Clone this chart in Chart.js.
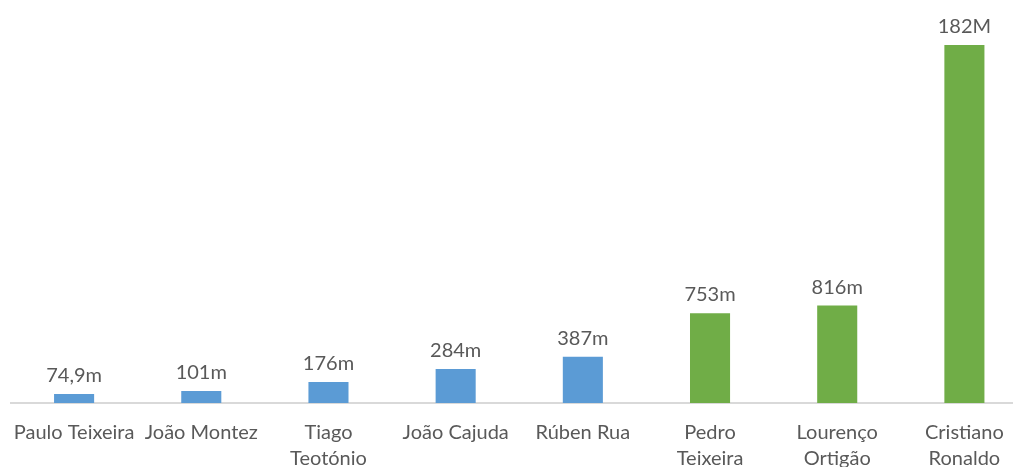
<!DOCTYPE html>
<html>
<head>
<meta charset="utf-8">
<script src="https://cdn.jsdelivr.net/npm/chart.js@4"></script>
<style>
    body { margin: 0; overflow: hidden; background: #fff; }
    #wrap { width: 1028px; height: 467px; }
</style>
</head>
<body>
<div id="wrap"><canvas id="barChart"></canvas></div>
<script>
const players = [
    'Paulo Teixeira', 'João Montez', ['Tiago', 'Teotónio'], 'João Cajuda',
    'Rúben Rua', ['Pedro', 'Teixeira'], ['Lourenço', 'Ortigão'], ['Cristiano', 'Ronaldo']
]
const values = [74.9, 101, 176, 284, 387, 753, 816, 3000]
const valueLabels = ['74,9m', '101m', '176m', '284m', '387m', '753m', '816m', '182M']
const groups = ['blue', 'blue', 'blue', 'blue', 'blue', 'green', 'green', 'green']

const colors = { blue: '#5b9bd5', green: '#70ad47' }
const fontFamily = 'Lato, "Open Sans", sans-serif'

// draws the text above each bar
const valueLabelPlugin = {
    id: 'valueLabels',
    afterDatasetsDraw(chart) {
        const ctx = chart.ctx
        const meta = chart.getDatasetMeta(0)
        ctx.save()
        ctx.font = '20px ' + fontFamily
        ctx.fillStyle = '#595959'
        ctx.textAlign = 'center'
        ctx.textBaseline = 'alphabetic'
        meta.data.forEach(function (bar, i) {
            ctx.fillText(valueLabels[i], bar.x, bar.y - 12)
        })
        ctx.restore()
    }
}

const data = {
    labels: players,
    datasets: [{
        data: values,
        backgroundColor: groups.map(g => colors[g]),
        borderWidth: 0,
        categoryPercentage: 1,
        barPercentage: 0.315
    }]
}

const config = {
    type: 'bar',
    data: data,
    options: {
        responsive: true,
        maintainAspectRatio: false,
        animation: false,
        layout: { padding: { left: 10.5, top: 45, right: 0, bottom: 0 } },
        plugins: { legend: { display: false }, tooltip: { enabled: false } },
        scales: {
            y: { display: false, min: 0, max: 3000 },
            x: {
                grid: { display: false },
                border: { color: '#d9d9d9', width: 2 },
                ticks: {
                    color: '#595959',
                    font: { family: fontFamily, size: 20, lineHeight: 1.3 },
                    padding: 9,
                    maxRotation: 0,
                    autoSkip: false
                },
                afterFit: function (scale) {
                    scale.height = 64
                    scale.paddingLeft = 0
                    scale.paddingRight = 0
                }
            }
        }
    },
    plugins: [valueLabelPlugin]
}

new Chart(document.getElementById('barChart'), config)
</script>
</body>
</html>
